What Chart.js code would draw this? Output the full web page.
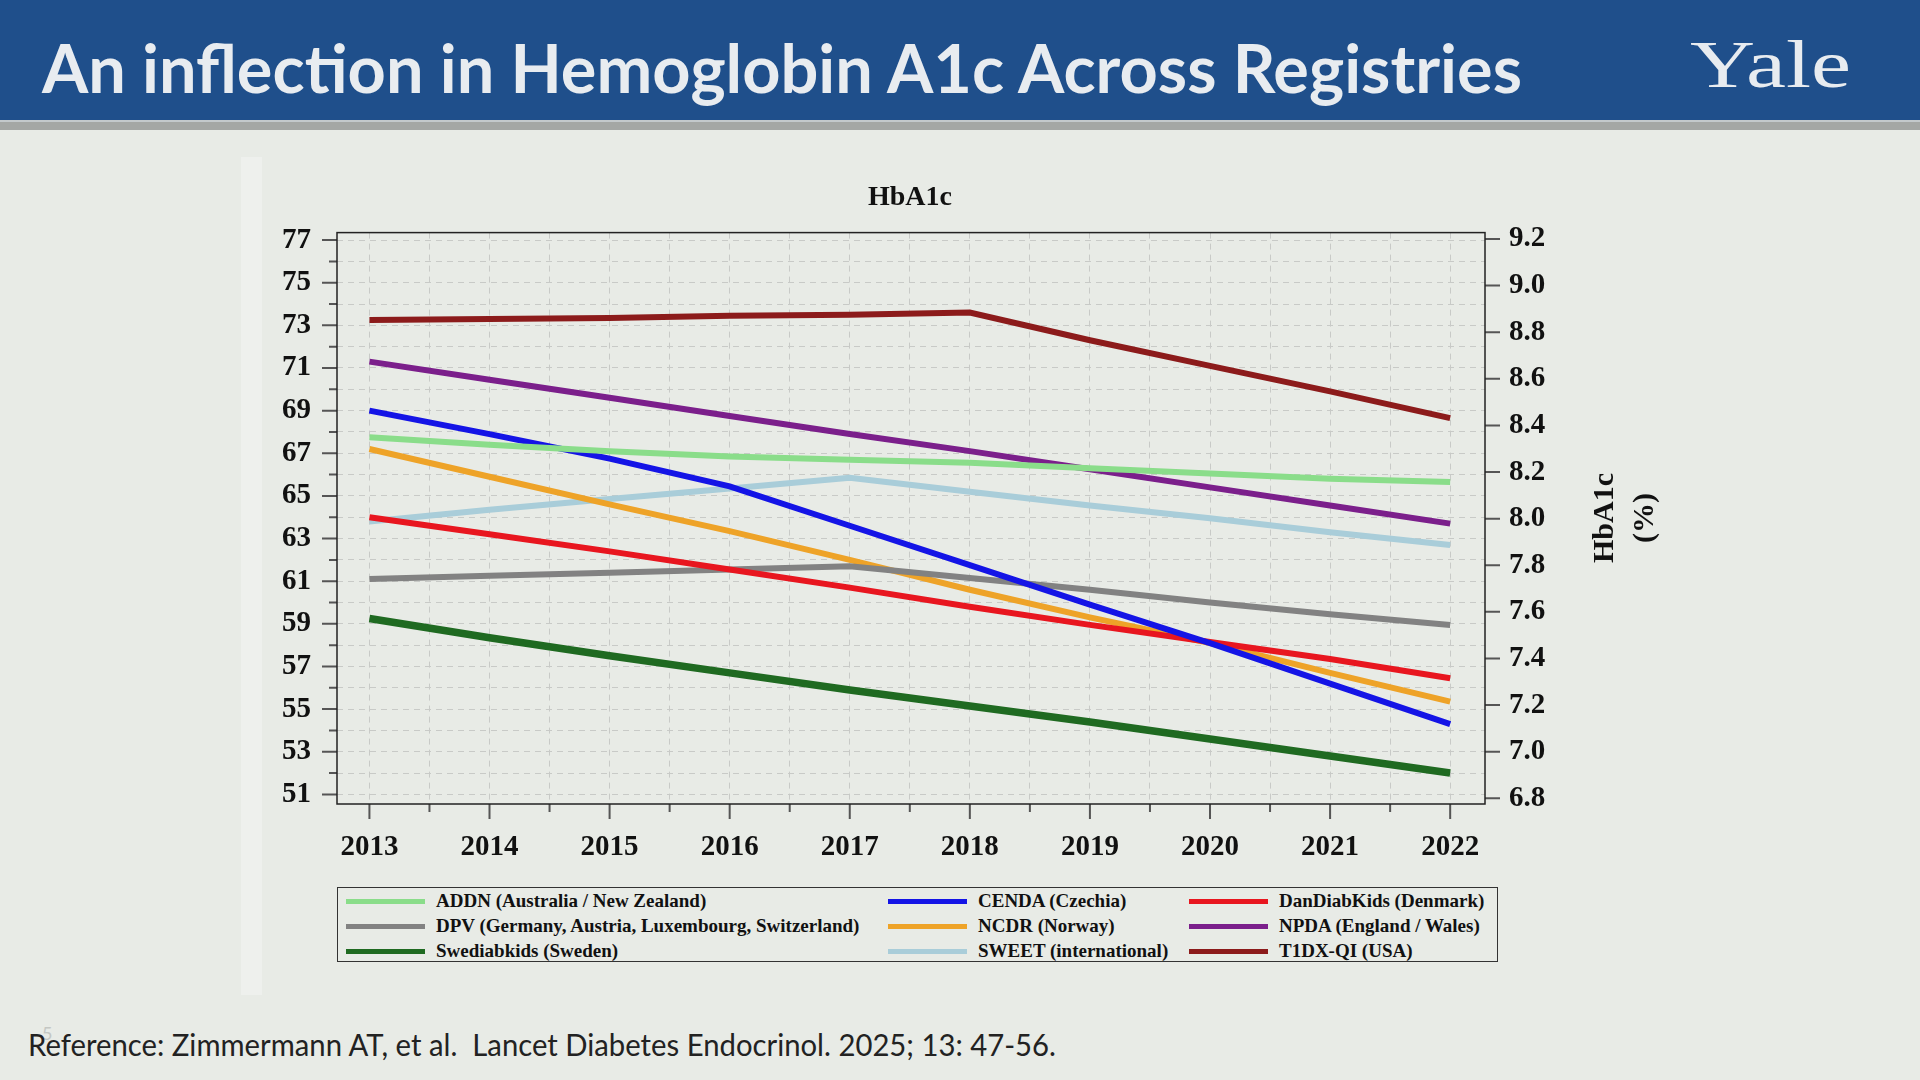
<!DOCTYPE html>
<html>
<head>
<meta charset="utf-8">
<script src="https://cdn.jsdelivr.net/npm/chart.js@4.4.1/dist/chart.umd.min.js"></script>
<style>
  html, body { margin: 0; padding: 0; }
  body { width: 1920px; height: 1080px; background: #e8ebe6; position: relative; overflow: hidden; }
  #header { position: absolute; left: 0; top: 0; width: 1920px; height: 120px; background: #1f4f8b; }
  #bar { position: absolute; left: 0; top: 120px; width: 1920px; height: 10px; background: #a4a7a5; border-top: 2px solid #c3c9cc; box-sizing: border-box; }
  .fit { position: absolute; white-space: nowrap; transform-origin: 0 0; }
  #title { left: 42px; top: 34px; font: bold 67px Lato, sans-serif; color: #e8ecf0; line-height: 1; }
  #yale { left: 1690px; top: 30px; font: 68px "Liberation Serif", serif; color: #e8ecf0; line-height: 1; }
  #strip { position: absolute; left: 241px; top: 157px; width: 21px; height: 838px; background: #eef0ed; }
  #wrap { position: absolute; left: 200px; top: 171px; width: 1420px; height: 700px; }
  #ytitle { position: absolute; left: 1623px; top: 518px; transform: translate(-50%, -50%) rotate(-90deg);
            font: bold 30px "Liberation Serif", serif; color: #111; text-align: center; line-height: 40px; white-space: nowrap; }
  #legend { position: absolute; left: 337px; top: 887px; width: 1161px; height: 75px; border: 1.5px solid #333; box-sizing: border-box; }
  .item { position: absolute; height: 24px; font: bold 19px "Liberation Serif", serif; color: #111; white-space: nowrap; }
  .item .swatch { position: absolute; left: 0; top: 10px; width: 79px; height: 5px; }
  .item .label { position: absolute; left: 90px; top: 0; line-height: 24px; }
  #ref { left: 28px; top: 1029px; font: 31px Lato, sans-serif; color: #222; line-height: 1; }
  #pageno { position: absolute; left: 42px; top: 1022px; font: 18px Lato, sans-serif; color: #c4c7c3; }
</style>
</head>
<body>
<div id="header"></div>
<div id="bar"></div>
<div id="title" class="fit" data-w="1480">An inflection in Hemoglobin A1c Across Registries</div>
<div id="yale" class="fit" data-w="161">Yale</div>
<div id="strip"></div>
<div id="wrap"><canvas id="hba1c"></canvas></div>
<div id="ytitle">HbA1c<br>(%)</div>
<div id="legend"></div>
<div id="pageno">5</div>
<div id="ref" class="fit" data-w="1028">Reference: Zimmermann AT, et al.&nbsp; Lancet Diabetes Endocrinol. 2025; 13: 47-56.</div>

<script>
// years on the x axis
var years = [2013, 2014, 2015, 2016, 2017, 2018, 2019, 2020, 2021, 2022];

// HbA1c in mmol/mol
var addn    = [67.75, 67.4, 67.1, 66.85, 66.7, 66.55, 66.3, 66.05, 65.8, 65.65];
var cenda   = [69.0, 67.9, 66.75, 65.45, 63.6, 61.75, 59.9, 58.1, 56.2, 54.3];
var dandiab = [64.0, 63.2, 62.4, 61.55, 60.7, 59.8, 58.95, 58.15, 57.35, 56.45];
var dpv     = [61.1, 61.25, 61.4, 61.55, 61.7, 61.15, 60.6, 60.0, 59.45, 58.95];
var ncdr    = [67.2, 65.9, 64.6, 63.35, 62.0, 60.6, 59.3, 58.1, 56.7, 55.35];
var npda    = [71.3, 70.45, 69.6, 68.75, 67.9, 67.1, 66.25, 65.4, 64.55, 63.7];
var swediab = [59.25, 58.35, 57.5, 56.7, 55.9, 55.15, 54.4, 53.6, 52.8, 52.0];
var sweet   = [63.8, 64.35, 64.85, 65.35, 65.85, 65.2, 64.55, 63.95, 63.3, 62.7];
var t1dx    = [73.25, 73.3, 73.35, 73.45, 73.5, 73.6, 72.3, 71.1, 69.9, 68.65];

// legend order (row by row, three columns)
var seriesNames = [
  'ADDN (Australia / New Zealand)', 'CENDA (Czechia)', 'DanDiabKids (Denmark)',
  'DPV (Germany, Austria, Luxembourg, Switzerland)', 'NCDR (Norway)', 'NPDA (England / Wales)',
  'Swediabkids (Sweden)', 'SWEET (international)', 'T1DX-QI (USA)'
];
var seriesValues = [addn, cenda, dandiab, dpv, ncdr, npda, swediab, sweet, t1dx];
var seriesColors = ['#8add8a', '#1414e6', '#e8161f', '#828282', '#eea328', '#7b1f8b', '#1f6a21', '#a9cdd9', '#8c1b1b'];
var seriesWidths = [6, 6, 6, 6, 6, 6, 7.5, 6, 6];

// left axis range (mmol/mol) and right axis ticks (%)
var leftMin = 50.55, leftMax = 77.35;
var rightTicks = ['6.8', '7.0', '7.2', '7.4', '7.6', '7.8', '8.0', '8.2', '8.4', '8.6', '8.8', '9.0', '9.2'];

function toPercent(mmol) { return mmol / 10.929 + 2.15; }

var serif = "'Liberation Serif', 'Times New Roman', serif";
var gridColor = '#c8cac7';

// tick marks of two lengths and the plot frame
var frameTicks = {
  id: 'frameTicks',
  afterDraw: function (chart) {
    var ctx = chart.ctx, a = chart.chartArea, s = chart.scales;
    ctx.save();
    ctx.strokeStyle = '#555';
    ctx.lineWidth = 2;
    ctx.beginPath();
    s.y.ticks.forEach(function (t) {
      var y = s.y.getPixelForValue(t.value);
      var len = (Math.round(t.value) - 51) % 2 === 0 ? 15 : 8;
      ctx.moveTo(a.left - len, y); ctx.lineTo(a.left, y);
    });
    s.y2.ticks.forEach(function (t) {
      var y = s.y2.getPixelForValue(t.value);
      ctx.moveTo(a.right, y); ctx.lineTo(a.right + 15, y);
    });
    s.x.ticks.forEach(function (t) {
      var x = s.x.getPixelForValue(t.value);
      var len = Number.isInteger(t.value) ? 15 : 8;
      ctx.moveTo(x, a.bottom); ctx.lineTo(x, a.bottom + len);
    });
    ctx.stroke();
    ctx.strokeStyle = '#222';
    ctx.lineWidth = 1.5;
    ctx.strokeRect(a.left, a.top, a.right - a.left, a.bottom - a.top);
    ctx.restore();
  }
};

var datasets = seriesNames.map(function (name, i) {
  return {
    label: name,
    data: years.map(function (yr, j) { return { x: yr, y: seriesValues[i][j] }; }),
    borderColor: seriesColors[i],
    backgroundColor: seriesColors[i],
    borderWidth: seriesWidths[i],
    pointRadius: 0,
    tension: 0
  };
});

var ctx = document.getElementById('hba1c').getContext('2d');
var chart = new Chart(ctx, {
  type: 'line',
  data: { datasets: datasets },
  plugins: [frameTicks],
  options: {
    responsive: true,
    maintainAspectRatio: false,
    animation: false,
    devicePixelRatio: 1,
    layout: { padding: { top: 10, left: 0, right: 0, bottom: 0 } },
    plugins: {
      legend: { display: false },
      tooltip: { enabled: false },
      title: {
        display: true,
        text: 'HbA1c',
        color: '#111',
        font: { family: serif, size: 28, weight: 'bold' },
        padding: { top: 0, bottom: 18 }
      }
    },
    scales: {
      x: {
        type: 'linear',
        min: 2012.73,
        max: 2022.29,
        afterFit: function (s) { s.height = 67; },
        border: { display: false, dash: [6, 5] },
        grid: { color: gridColor, lineWidth: 1, drawTicks: false },
        ticks: {
          stepSize: 0.5,
          includeBounds: false,
          autoSkip: false,
          maxRotation: 0,
          padding: 26,
          color: '#111',
          font: { family: serif, size: 29, weight: 'bold' },
          callback: function (value) { return Number.isInteger(value) ? String(value) : ''; }
        }
      },
      y: {
        position: 'left',
        min: leftMin,
        max: leftMax,
        afterFit: function (s) { s.width = 137; },
        border: { display: false, dash: [6, 5] },
        grid: { color: gridColor, lineWidth: 1, drawTicks: false },
        ticks: {
          stepSize: 1,
          includeBounds: false,
          autoSkip: false,
          padding: 26,
          color: '#111',
          font: { family: serif, size: 29, weight: 'bold' },
          callback: function (value) { return (Math.round(value) - 51) % 2 === 0 ? String(value) : ''; }
        }
      },
      y2: {
        position: 'right',
        min: toPercent(leftMin),
        max: toPercent(leftMax),
        afterFit: function (s) { s.width = 135; },
        border: { display: false },
        grid: { display: false, drawTicks: false },
        afterBuildTicks: function (s) {
          s.ticks = rightTicks.map(function (t) { return { value: parseFloat(t) }; });
        },
        ticks: {
          autoSkip: false,
          padding: 24,
          color: '#111',
          font: { family: serif, size: 29, weight: 'bold' },
          callback: function (value) { return value.toFixed(1); }
        }
      }
    }
  }
});

// HTML legend built from the same series
var legend = document.getElementById('legend');
var colX = [8, 550, 851];
var rowY = [1, 26, 51];
seriesNames.forEach(function (name, i) {
  var item = document.createElement('div');
  item.className = 'item';
  item.style.left = colX[i % 3] + 'px';
  item.style.top = rowY[Math.floor(i / 3)] + 'px';
  var sw = document.createElement('div');
  sw.className = 'swatch';
  sw.style.background = seriesColors[i];
  var lb = document.createElement('div');
  lb.className = 'label';
  lb.textContent = name;
  item.appendChild(sw);
  item.appendChild(lb);
  legend.appendChild(item);
});

// squeeze the slide texts to the widths they have on the slide
document.querySelectorAll('.fit').forEach(function (el) {
  var w = el.getBoundingClientRect().width;
  el.style.transform = 'scaleX(' + (parseFloat(el.dataset.w) / w) + ')';
});
</script>
</body>
</html>
